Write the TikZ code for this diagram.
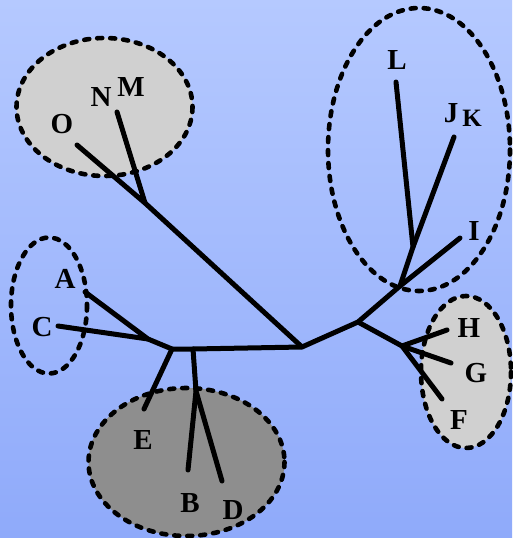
\documentclass[tikz,border=0pt]{standalone}
\usepackage{fontspec}
\setmainfont{Liberation Serif}
\begin{document}
\begin{tikzpicture}[x=1pt,y=-1pt,
  grp/.style={line width=4.6pt,dash pattern=on 5pt off 8pt,line cap=round},
  branch/.style={line width=5pt,line cap=round,line join=round},
  lbl/.style={font=\fontsize{29}{29}\selectfont\bfseries,inner sep=0pt}]
\useasboundingbox (0,0) rectangle (512,538);
\shade[top color={rgb,255:red,181;green,201;blue,255},bottom color={rgb,255:red,143;green,170;blue,250}] (0,0) rectangle (512,538);
% groups
\draw[grp,fill={rgb,255:red,208;green,208;blue,208}] (104.5,107) ellipse [x radius=88,y radius=69];
\draw[grp] (419,149.5) ellipse [x radius=91,y radius=141.5];
\draw[grp] (49,305.5) ellipse [x radius=38,y radius=68];
\draw[grp,fill={rgb,255:red,142;green,142;blue,142}] (186.5,462) ellipse [x radius=98,y radius=74];
\draw[grp,fill={rgb,255:red,208;green,208;blue,208}] (466,372) ellipse [x radius=45,y radius=76];
% tree coordinates
\coordinate (p1) at (302,347);
\coordinate (jo) at (145,203);
\coordinate (eo) at (77,145);
\coordinate (em) at (117,112);
\coordinate (q) at (172,349);
\coordinate (r) at (148,339);
\coordinate (ea) at (85,292);
\coordinate (ec) at (58,326);
\coordinate (ee) at (144,409);
\coordinate (s) at (193,349);
\coordinate (s2) at (196,391);
\coordinate (eb) at (188,470);
\coordinate (ed) at (222,481);
\coordinate (t) at (358,322);
\coordinate (u) at (400,286);
\coordinate (v) at (413,247);
\coordinate (el) at (396,82);
\coordinate (ek) at (454,137);
\coordinate (ei) at (460,238);
\coordinate (w) at (402,346);
\coordinate (eh) at (447,330);
\coordinate (eg) at (451,363);
\coordinate (ef) at (442,399);
% branches
\draw[branch] (eo) -- (jo) -- (p1) -- (t) -- (u) -- (v) -- (el);
\draw[branch] (em) -- (jo);
\draw[branch] (v) -- (ek);
\draw[branch] (u) -- (ei);
\draw[branch] (t) -- (w) -- (eh);
\draw[branch] (w) -- (eg);
\draw[branch] (w) -- (ef);
\draw[branch] (p1) -- (s) -- (q) -- (r) -- (ea);
\draw[branch] (r) -- (ec);
\draw[branch] (q) -- (ee);
\draw[branch] (s) -- (s2) -- (eb);
\draw[branch] (s2) -- (ed);
% labels
\node[lbl] (lo) at (62,124) {O};
\node[lbl] (ln) at (101,97) {N};
\node[lbl] (lm) at (131,87) {M};
\node[lbl] (ll) at (397,60) {L};
\node[lbl] (lj) at (451,113) {J};
\node[lbl,font=\fontsize{25}{25}\selectfont\bfseries] (lk) at (472,118) {K};
\node[lbl] (li) at (474,231) {I};
\node[lbl] (la) at (65,279) {A};
\node[lbl] (lc) at (42,327) {C};
\node[lbl] (le) at (143,440) {E};
\node[lbl] (lb) at (190,503) {B};
\node[lbl] (ld) at (233,510) {D};
\node[lbl] (lh) at (469,328) {H};
\node[lbl] (lg) at (476,373) {G};
\node[lbl] (lf) at (459,420) {F};
\end{tikzpicture}
\end{document}
